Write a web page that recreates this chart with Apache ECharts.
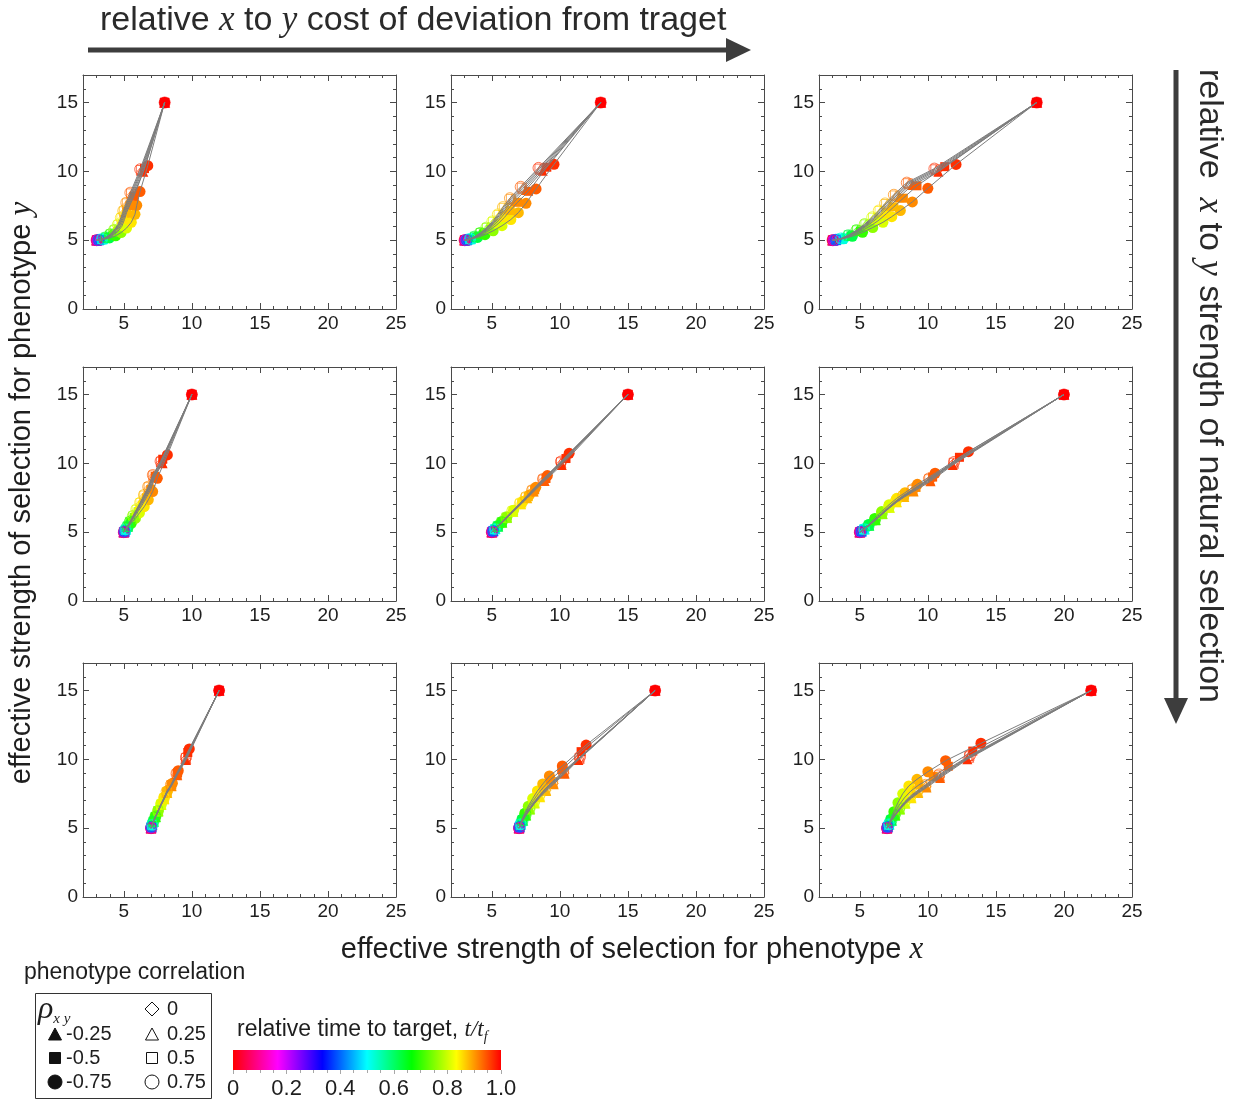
<!DOCTYPE html>
<html>
<head>
<meta charset="utf-8">
<script src="https://cdn.jsdelivr.net/npm/echarts@6/dist/echarts.min.js"></script>
<style>
html, body { margin: 0; padding: 0; background: #ffffff; }
#chart { width: 1242px; height: 1111px; }
</style>
</head>
<body>
<div id="chart"></div>
<script>
// Relative time t/t_f of every stored sample along a trajectory
const sampleTimes = [0, 0.2, 0.4, 0.52, 0.62, 0.7, 0.76, 0.81, 0.85, 0.88, 0.91, 0.94, 0.97, 1];
// Phenotype correlations, one trajectory per value (same order in every panel)
const correlations = [-0.75, -0.5, -0.25, 0, 0.25, 0.5, 0.75];
const xTickValues = [5, 10, 15, 20, 25];
const yTickValues = [0, 5, 10, 15];
const colorbarTickValues = [0, 0.2, 0.4, 0.6, 0.8, 1.0];

// Row 1, column 1 : start (3,5), target (8,15)
const p11x = [
  [3, 3.04, 3.22, 3.55, 3.95, 4.4, 4.8, 5.2, 5.55, 5.82, 5.95, 6.19, 6.76, 8],
  [3, 3.04, 3.2, 3.48, 3.82, 4.2, 4.55, 4.85, 5.05, 5.2, 5.45, 5.75, 6.52, 8],
  [3, 3.04, 3.19, 3.45, 3.78, 4.13, 4.47, 4.77, 4.98, 5.15, 5.38, 5.7, 6.43, 8],
  [3, 3.03, 3.18, 3.43, 3.75, 4.08, 4.4, 4.7, 4.92, 5.1, 5.32, 5.64, 6.36, 8],
  [3, 3.03, 3.17, 3.42, 3.72, 4.05, 4.36, 4.65, 4.87, 5.05, 5.27, 5.58, 6.3, 8],
  [3, 3.03, 3.17, 3.41, 3.7, 4.02, 4.32, 4.6, 4.82, 5.0, 5.22, 5.53, 6.25, 8],
  [3, 3.03, 3.16, 3.4, 3.68, 4.0, 4.29, 4.56, 4.78, 4.96, 5.18, 5.48, 6.2, 8]
];
const p11y = [
  [5, 5.0, 5.02, 5.07, 5.16, 5.32, 5.55, 5.88, 6.3, 6.88, 7.53, 8.53, 10.41, 15],
  [5, 5.0, 5.02, 5.08, 5.18, 5.36, 5.62, 6.0, 6.5, 7.0, 7.55, 8.2, 10.2, 15],
  [5, 5.0, 5.02, 5.08, 5.19, 5.38, 5.65, 6.03, 6.52, 7.0, 7.55, 8.25, 9.98, 15],
  [5, 5.0, 5.02, 5.08, 5.2, 5.4, 5.68, 6.06, 6.55, 7.03, 7.6, 8.3, 10.02, 15],
  [5, 5.0, 5.02, 5.08, 5.2, 5.41, 5.7, 6.08, 6.58, 7.07, 7.64, 8.35, 10.06, 15],
  [5, 5.0, 5.02, 5.09, 5.21, 5.42, 5.72, 6.1, 6.6, 7.1, 7.68, 8.4, 10.1, 15],
  [5, 5.0, 5.02, 5.09, 5.21, 5.43, 5.74, 6.13, 6.63, 7.13, 7.72, 8.45, 10.15, 15]
];

// Row 1, column 2 : start (3,5), target (13,15)
const p12x = [
  [3, 3.04, 3.2, 3.5, 3.95, 4.5, 5.1, 5.75, 6.4, 6.95, 7.51, 8.25, 9.57, 13],
  [3, 3.04, 3.19, 3.47, 3.88, 4.38, 4.92, 5.45, 5.92, 6.35, 6.9, 7.7, 9.04, 13],
  [3, 3.04, 3.18, 3.45, 3.83, 4.3, 4.8, 5.3, 5.75, 6.15, 6.7, 7.5, 8.74, 13],
  [3, 3.04, 3.17, 3.43, 3.8, 4.25, 4.73, 5.2, 5.63, 6.03, 6.57, 7.38, 8.65, 13],
  [3, 3.04, 3.17, 3.42, 3.78, 4.21, 4.68, 5.14, 5.56, 5.95, 6.48, 7.28, 8.57, 13],
  [3, 3.04, 3.16, 3.41, 3.76, 4.18, 4.64, 5.09, 5.5, 5.88, 6.4, 7.2, 8.5, 13],
  [3, 3.04, 3.16, 3.4, 3.74, 4.15, 4.6, 5.04, 5.44, 5.82, 6.33, 7.12, 8.43, 13]
];
const p12y = [
  [5, 5.0, 5.02, 5.08, 5.2, 5.4, 5.68, 6.05, 6.5, 7.0, 7.68, 8.72, 10.51, 15],
  [5, 5.0, 5.02, 5.09, 5.23, 5.46, 5.78, 6.18, 6.65, 7.15, 7.75, 8.55, 10.3, 15],
  [5, 5.0, 5.02, 5.09, 5.24, 5.48, 5.82, 6.23, 6.72, 7.22, 7.85, 8.65, 10.05, 15],
  [5, 5.0, 5.02, 5.09, 5.25, 5.5, 5.85, 6.27, 6.76, 7.27, 7.9, 8.7, 10.1, 15],
  [5, 5.0, 5.02, 5.09, 5.25, 5.51, 5.87, 6.3, 6.8, 7.31, 7.95, 8.76, 10.15, 15],
  [5, 5.0, 5.02, 5.1, 5.26, 5.52, 5.89, 6.33, 6.83, 7.35, 8.0, 8.82, 10.2, 15],
  [5, 5.0, 5.02, 5.1, 5.26, 5.53, 5.91, 6.36, 6.87, 7.4, 8.05, 8.88, 10.25, 15]
];

// Row 1, column 3 : start (3,5), target (18,15)
const p13x = [
  [3, 3.05, 3.3, 3.8, 4.45, 5.2, 5.95, 6.7, 7.35, 7.98, 8.86, 10.0, 12.07, 18],
  [3, 3.05, 3.28, 3.74, 4.35, 5.05, 5.75, 6.4, 6.95, 7.5, 8.2, 9.2, 11.24, 18],
  [3, 3.05, 3.26, 3.7, 4.28, 4.95, 5.6, 6.2, 6.72, 7.22, 7.88, 8.85, 10.77, 18],
  [3, 3.05, 3.25, 3.68, 4.24, 4.88, 5.52, 6.1, 6.6, 7.1, 7.75, 8.72, 10.7, 18],
  [3, 3.05, 3.24, 3.66, 4.21, 4.84, 5.46, 6.03, 6.52, 7.01, 7.66, 8.62, 10.62, 18],
  [3, 3.05, 3.24, 3.65, 4.18, 4.8, 5.41, 5.97, 6.45, 6.93, 7.58, 8.53, 10.55, 18],
  [3, 3.05, 3.23, 3.63, 4.16, 4.76, 5.36, 5.91, 6.39, 6.86, 7.5, 8.45, 10.48, 18]
];
const p13y = [
  [5, 5.0, 5.03, 5.1, 5.28, 5.57, 5.92, 6.3, 6.71, 7.15, 7.78, 8.77, 10.5, 15],
  [5, 5.0, 5.03, 5.11, 5.31, 5.63, 6.02, 6.45, 6.92, 7.42, 8.05, 8.95, 10.34, 15],
  [5, 5.0, 5.03, 5.12, 5.33, 5.67, 6.08, 6.53, 7.0, 7.5, 8.12, 9.0, 9.98, 15],
  [5, 5.0, 5.03, 5.12, 5.34, 5.69, 6.11, 6.57, 7.05, 7.55, 8.17, 9.05, 10.05, 15],
  [5, 5.0, 5.03, 5.12, 5.35, 5.7, 6.13, 6.6, 7.08, 7.59, 8.21, 9.1, 10.1, 15],
  [5, 5.0, 5.03, 5.13, 5.36, 5.72, 6.15, 6.63, 7.12, 7.63, 8.25, 9.14, 10.15, 15],
  [5, 5.0, 5.03, 5.13, 5.36, 5.73, 6.17, 6.66, 7.15, 7.67, 8.3, 9.18, 10.2, 15]
];

// Row 2, column 1 : start (5,5), target (10,15)
const p21x = [
  [5, 5.01, 5.05, 5.15, 5.32, 5.55, 5.85, 6.15, 6.5, 6.8, 7.12, 7.46, 8.2, 10],
  [5, 5.01, 5.05, 5.14, 5.3, 5.5, 5.76, 6.05, 6.35, 6.65, 6.98, 7.3, 7.86, 10],
  [5, 5.01, 5.05, 5.14, 5.29, 5.48, 5.73, 6.0, 6.3, 6.6, 6.92, 7.25, 7.85, 10],
  [5, 5.01, 5.05, 5.14, 5.28, 5.47, 5.71, 5.98, 6.27, 6.56, 6.88, 7.22, 7.78, 10],
  [5, 5.01, 5.05, 5.13, 5.27, 5.46, 5.69, 5.96, 6.24, 6.53, 6.85, 7.19, 7.75, 10],
  [5, 5.01, 5.05, 5.13, 5.27, 5.45, 5.68, 5.94, 6.22, 6.5, 6.82, 7.16, 7.72, 10],
  [5, 5.01, 5.05, 5.13, 5.26, 5.44, 5.66, 5.92, 6.2, 6.48, 6.79, 7.13, 7.7, 10]
];
const p21y = [
  [5, 5.01, 5.06, 5.18, 5.38, 5.65, 6.0, 6.4, 6.85, 7.35, 7.95, 8.91, 10.61, 15],
  [5, 5.01, 5.06, 5.19, 5.4, 5.7, 6.07, 6.5, 6.97, 7.5, 8.1, 9.05, 10.3, 15],
  [5, 5.01, 5.06, 5.19, 5.41, 5.72, 6.1, 6.55, 7.02, 7.56, 8.15, 9.0, 10.0, 15],
  [5, 5.01, 5.06, 5.19, 5.41, 5.73, 6.12, 6.58, 7.06, 7.6, 8.2, 9.05, 10.05, 15],
  [5, 5.01, 5.06, 5.2, 5.42, 5.74, 6.14, 6.6, 7.09, 7.63, 8.24, 9.08, 10.1, 15],
  [5, 5.01, 5.06, 5.2, 5.42, 5.75, 6.15, 6.62, 7.12, 7.66, 8.27, 9.12, 10.12, 15],
  [5, 5.01, 5.06, 5.2, 5.43, 5.76, 6.17, 6.65, 7.15, 7.7, 8.3, 9.15, 10.15, 15]
];

// Row 2, column 2 : start (5,5), target (15,15)
const p22x = [
  [5, 5.02, 5.1, 5.25, 5.45, 5.75, 6.1, 6.6, 7.27, 7.76, 8.23, 9.08, 10.68, 15],
  [5, 5.02, 5.1, 5.25, 5.46, 5.76, 6.12, 6.6, 7.2, 7.68, 8.15, 8.98, 10.45, 15],
  [5, 5.02, 5.1, 5.25, 5.46, 5.76, 6.12, 6.58, 7.15, 7.6, 8.08, 8.88, 10.14, 15],
  [5, 5.02, 5.1, 5.24, 5.44, 5.74, 6.1, 6.55, 7.12, 7.56, 8.03, 8.83, 10.1, 15],
  [5, 5.02, 5.1, 5.24, 5.44, 5.73, 6.08, 6.53, 7.1, 7.53, 8.0, 8.8, 10.08, 15],
  [5, 5.02, 5.09, 5.23, 5.43, 5.72, 6.07, 6.52, 7.08, 7.51, 7.98, 8.78, 10.08, 15],
  [5, 5.02, 5.09, 5.23, 5.43, 5.71, 6.06, 6.5, 7.06, 7.49, 7.96, 8.76, 10.08, 15]
];
const p22y = [
  [5, 5.02, 5.1, 5.25, 5.45, 5.75, 6.1, 6.6, 7.22, 7.7, 8.26, 9.11, 10.73, 15],
  [5, 5.02, 5.1, 5.24, 5.44, 5.73, 6.08, 6.55, 7.12, 7.58, 8.08, 8.9, 10.35, 15],
  [5, 5.02, 5.09, 5.23, 5.42, 5.7, 6.04, 6.48, 7.03, 7.47, 7.95, 8.72, 9.88, 15],
  [5, 5.02, 5.09, 5.23, 5.42, 5.7, 6.05, 6.5, 7.05, 7.5, 7.98, 8.76, 9.95, 15],
  [5, 5.02, 5.09, 5.23, 5.43, 5.71, 6.06, 6.51, 7.07, 7.52, 8.0, 8.8, 10.02, 15],
  [5, 5.02, 5.09, 5.23, 5.43, 5.72, 6.07, 6.52, 7.08, 7.53, 8.02, 8.83, 10.08, 15],
  [5, 5.02, 5.09, 5.23, 5.44, 5.73, 6.08, 6.54, 7.1, 7.55, 8.05, 8.86, 10.13, 15]
];

// Row 2, column 3 : start (5,5), target (20,15)
const p23x = [
  [5, 5.02, 5.12, 5.32, 5.65, 6.1, 6.6, 7.15, 7.71, 8.32, 9.23, 10.53, 12.98, 20],
  [5, 5.02, 5.12, 5.33, 5.67, 6.13, 6.63, 7.17, 7.7, 8.28, 9.13, 10.35, 12.32, 20],
  [5, 5.02, 5.12, 5.33, 5.68, 6.15, 6.66, 7.2, 7.72, 8.27, 8.95, 10.2, 11.83, 20],
  [5, 5.02, 5.12, 5.33, 5.68, 6.15, 6.66, 7.18, 7.7, 8.24, 8.92, 10.15, 11.85, 20],
  [5, 5.02, 5.12, 5.33, 5.67, 6.14, 6.65, 7.17, 7.68, 8.22, 8.9, 10.12, 11.88, 20],
  [5, 5.02, 5.12, 5.32, 5.66, 6.13, 6.63, 7.15, 7.66, 8.2, 8.88, 10.1, 11.9, 20],
  [5, 5.02, 5.12, 5.32, 5.66, 6.12, 6.62, 7.13, 7.64, 8.18, 8.86, 10.08, 11.93, 20]
];
const p23y = [
  [5, 5.01, 5.08, 5.25, 5.55, 6.0, 6.5, 7.0, 7.46, 7.87, 8.48, 9.28, 10.85, 15],
  [5, 5.01, 5.07, 5.23, 5.5, 5.92, 6.38, 6.85, 7.28, 7.68, 8.25, 9.0, 10.44, 15],
  [5, 5.01, 5.07, 5.22, 5.48, 5.88, 6.32, 6.77, 7.18, 7.55, 7.95, 8.7, 9.88, 15],
  [5, 5.01, 5.07, 5.22, 5.48, 5.88, 6.32, 6.78, 7.2, 7.58, 8.0, 8.75, 9.95, 15],
  [5, 5.01, 5.07, 5.22, 5.49, 5.89, 6.34, 6.8, 7.22, 7.6, 8.03, 8.8, 10.0, 15],
  [5, 5.01, 5.07, 5.22, 5.49, 5.9, 6.35, 6.82, 7.24, 7.63, 8.07, 8.85, 10.05, 15],
  [5, 5.01, 5.07, 5.22, 5.5, 5.91, 6.37, 6.84, 7.27, 7.66, 8.1, 8.9, 10.1, 15]
];

// Row 3, column 1 : start (7,5), target (12,15)
const p31x = [
  [7, 7.0, 7.03, 7.08, 7.17, 7.32, 7.52, 7.75, 7.98, 8.2, 8.57, 9.0, 9.81, 12],
  [7, 7.0, 7.03, 7.08, 7.17, 7.32, 7.52, 7.74, 7.96, 8.18, 8.52, 8.95, 9.7, 12],
  [7, 7.0, 7.03, 7.08, 7.18, 7.33, 7.53, 7.75, 7.97, 8.18, 8.5, 8.92, 9.57, 12],
  [7, 7.0, 7.03, 7.08, 7.18, 7.33, 7.53, 7.75, 7.96, 8.17, 8.49, 8.9, 9.55, 12],
  [7, 7.0, 7.03, 7.08, 7.18, 7.33, 7.52, 7.74, 7.95, 8.16, 8.48, 8.89, 9.55, 12],
  [7, 7.0, 7.03, 7.08, 7.18, 7.32, 7.52, 7.74, 7.95, 8.15, 8.47, 8.88, 9.56, 12],
  [7, 7.0, 7.03, 7.08, 7.18, 7.32, 7.51, 7.73, 7.94, 8.14, 8.46, 8.87, 9.57, 12]
];
const p31y = [
  [5, 5.02, 5.1, 5.25, 5.5, 5.85, 6.3, 6.8, 7.25, 7.72, 8.26, 9.18, 10.76, 15],
  [5, 5.02, 5.1, 5.25, 5.49, 5.83, 6.26, 6.74, 7.18, 7.63, 8.17, 9.02, 10.5, 15],
  [5, 5.02, 5.1, 5.24, 5.48, 5.81, 6.22, 6.68, 7.1, 7.55, 8.05, 8.85, 9.96, 15],
  [5, 5.02, 5.1, 5.24, 5.48, 5.81, 6.23, 6.7, 7.12, 7.58, 8.08, 8.88, 10.0, 15],
  [5, 5.02, 5.1, 5.24, 5.48, 5.82, 6.24, 6.72, 7.14, 7.6, 8.1, 8.91, 10.05, 15],
  [5, 5.02, 5.1, 5.24, 5.49, 5.83, 6.25, 6.73, 7.16, 7.62, 8.13, 8.94, 10.1, 15],
  [5, 5.02, 5.1, 5.25, 5.49, 5.84, 6.26, 6.75, 7.18, 7.65, 8.16, 8.97, 10.15, 15]
];

// Row 3, column 2 : start (7,5), target (17,15)
const p32x = [
  [7, 7.0, 7.03, 7.1, 7.22, 7.42, 7.68, 8.0, 8.35, 8.74, 9.23, 10.18, 11.93, 17],
  [7, 7.0, 7.03, 7.1, 7.23, 7.44, 7.71, 8.04, 8.4, 8.8, 9.3, 10.15, 11.56, 17],
  [7, 7.0, 7.04, 7.12, 7.27, 7.5, 7.8, 8.15, 8.55, 9.0, 9.55, 10.35, 11.36, 17],
  [7, 7.0, 7.04, 7.12, 7.27, 7.5, 7.8, 8.14, 8.53, 8.97, 9.52, 10.32, 11.4, 17],
  [7, 7.0, 7.04, 7.12, 7.27, 7.5, 7.79, 8.13, 8.51, 8.95, 9.49, 10.3, 11.42, 17],
  [7, 7.0, 7.04, 7.12, 7.27, 7.49, 7.78, 8.12, 8.5, 8.93, 9.47, 10.27, 11.45, 17],
  [7, 7.0, 7.04, 7.12, 7.26, 7.48, 7.77, 8.1, 8.48, 8.91, 9.44, 10.24, 11.48, 17]
];
const p32y = [
  [5, 5.02, 5.12, 5.32, 5.65, 6.08, 6.6, 7.15, 7.7, 8.21, 8.79, 9.52, 11.04, 15],
  [5, 5.02, 5.11, 5.3, 5.61, 6.02, 6.5, 7.0, 7.5, 7.98, 8.52, 9.25, 10.56, 15],
  [5, 5.02, 5.1, 5.27, 5.55, 5.92, 6.35, 6.8, 7.25, 7.7, 8.2, 8.95, 9.96, 15],
  [5, 5.02, 5.1, 5.27, 5.56, 5.94, 6.38, 6.84, 7.29, 7.75, 8.25, 9.0, 10.02, 15],
  [5, 5.02, 5.1, 5.27, 5.56, 5.95, 6.4, 6.86, 7.32, 7.78, 8.29, 9.04, 10.07, 15],
  [5, 5.02, 5.1, 5.28, 5.57, 5.96, 6.42, 6.89, 7.35, 7.82, 8.33, 9.08, 10.12, 15],
  [5, 5.02, 5.1, 5.28, 5.57, 5.97, 6.44, 6.91, 7.38, 7.85, 8.37, 9.12, 10.18, 15]
];

// Row 3, column 3 : start (7,5), target (22,15)
const p33x = [
  [7, 7.0, 7.04, 7.12, 7.27, 7.5, 7.8, 8.15, 8.6, 9.2, 10.0, 11.3, 13.9, 22],
  [7, 7.0, 7.04, 7.13, 7.29, 7.54, 7.87, 8.27, 8.75, 9.35, 10.4, 11.5, 13.3, 22],
  [7, 7.0, 7.05, 7.15, 7.33, 7.6, 7.95, 8.35, 8.8, 9.3, 9.9, 10.9, 12.9, 22],
  [7, 7.0, 7.05, 7.15, 7.33, 7.6, 7.94, 8.33, 8.78, 9.28, 9.88, 10.88, 12.95, 22],
  [7, 7.0, 7.05, 7.15, 7.33, 7.59, 7.93, 8.32, 8.76, 9.26, 9.86, 10.86, 13.0, 22],
  [7, 7.0, 7.05, 7.15, 7.32, 7.58, 7.92, 8.3, 8.74, 9.24, 9.84, 10.84, 13.05, 22],
  [7, 7.0, 7.05, 7.15, 7.32, 7.57, 7.9, 8.28, 8.72, 9.22, 9.82, 10.82, 13.1, 22]
];
const p33y = [
  [5, 5.02, 5.1, 5.3, 5.65, 6.2, 6.85, 7.5, 8.07, 8.55, 9.1, 9.9, 11.17, 15],
  [5, 5.02, 5.1, 5.28, 5.6, 6.08, 6.65, 7.2, 7.7, 8.15, 8.75, 9.5, 10.6, 15],
  [5, 5.02, 5.1, 5.27, 5.55, 5.92, 6.35, 6.78, 7.18, 7.55, 7.95, 8.65, 10.0, 15],
  [5, 5.02, 5.1, 5.27, 5.56, 5.94, 6.38, 6.82, 7.22, 7.6, 8.0, 8.72, 10.08, 15],
  [5, 5.02, 5.1, 5.27, 5.56, 5.95, 6.4, 6.85, 7.26, 7.64, 8.05, 8.78, 10.15, 15],
  [5, 5.02, 5.1, 5.28, 5.57, 5.96, 6.42, 6.88, 7.3, 7.68, 8.1, 8.84, 10.22, 15],
  [5, 5.02, 5.1, 5.28, 5.57, 5.97, 6.44, 6.91, 7.34, 7.72, 8.15, 8.9, 10.3, 15]
];

const panels = [
  { x: p11x, y: p11y }, { x: p12x, y: p12y }, { x: p13x, y: p13y },
  { x: p21x, y: p21y }, { x: p22x, y: p22y }, { x: p23x, y: p23y },
  { x: p31x, y: p31y }, { x: p32x, y: p32y }, { x: p33x, y: p33y }
];

// ---------- layout and style ----------
const SANS = '"Liberation Sans", Arial, sans-serif';
const SERIF = '"Liberation Serif", "Times New Roman", serif';
const FRAME = '#4a4a4a';
const TEXT = '#1e1e1e';
const colLeft = [83, 451, 819];
const rowTop = [75, 367, 663];
const PW = 313, PH = 234;
const X_MIN = 2, X_MAX = 25, Y_MIN = 0, Y_MAX = 17;
const minorX = [3, 4, 6, 7, 8, 9, 11, 12, 13, 14, 16, 17, 18, 19, 21, 22, 23, 24];
const minorY = [1, 2, 3, 4, 6, 7, 8, 9, 11, 12, 13, 14, 16];

// marker per correlation: filled for negative values, outlined otherwise
const markers = [
  { symbol: 'circle', size: 11, filled: true },
  { symbol: 'rect', size: 9, filled: true },
  { symbol: 'triangle', size: 10, filled: true },
  { symbol: 'diamond', size: 10, filled: false },
  { symbol: 'triangle', size: 10, filled: false },
  { symbol: 'rect', size: 9, filled: false },
  { symbol: 'circle', size: 11, filled: false }
];

// hue wheel running red -> magenta -> blue -> cyan -> green -> yellow -> red as t goes 0 -> 1
function timeColor(t) {
  const h = ((1 - t) * 6) % 6;
  const i = Math.floor(h), f = h - i;
  let r, g, b;
  switch (i) {
    case 0: r = 1; g = f; b = 0; break;
    case 1: r = 1 - f; g = 1; b = 0; break;
    case 2: r = 0; g = 1; b = f; break;
    case 3: r = 0; g = 1 - f; b = 1; break;
    case 4: r = f; g = 0; b = 1; break;
    default: r = 1; g = 0; b = 1 - f;
  }
  return 'rgb(' + Math.round(r * 255) + ',' + Math.round(g * 255) + ',' + Math.round(b * 255) + ')';
}

function frameAxis(gridIndex, min, max, position, ticks, len, showLine, labels) {
  return {
    gridIndex: gridIndex, type: 'value', min: min, max: max, position: position,
    axisLine: { show: showLine, onZero: false, lineStyle: { color: FRAME, width: 1 } },
    axisTick: { show: true, inside: true, length: len, customValues: ticks, lineStyle: { color: FRAME, width: 1 } },
    axisLabel: labels
      ? { show: true, customValues: labels, fontSize: 19, color: TEXT, fontFamily: SANS, margin: 5 }
      : { show: false },
    splitLine: { show: false },
    minorTick: { show: false },
    axisPointer: { show: false }
  };
}

const grids = [], xAxes = [], yAxes = [], series = [];

panels.forEach(function (p, g) {
  const r = Math.floor(g / 3), c = g % 3;
  grids.push({ left: colLeft[c], top: rowTop[r], width: PW, height: PH });
  xAxes.push(frameAxis(g, X_MIN, X_MAX, 'bottom', xTickValues, 6, true, xTickValues));
  xAxes.push(frameAxis(g, X_MIN, X_MAX, 'bottom', minorX, 3, false, null));
  xAxes.push(frameAxis(g, X_MIN, X_MAX, 'top', xTickValues, 6, true, null));
  xAxes.push(frameAxis(g, X_MIN, X_MAX, 'top', minorX, 3, false, null));
  yAxes.push(frameAxis(g, Y_MIN, Y_MAX, 'left', yTickValues, 6, true, yTickValues));
  yAxes.push(frameAxis(g, Y_MIN, Y_MAX, 'left', minorY, 3, false, null));
  yAxes.push(frameAxis(g, Y_MIN, Y_MAX, 'right', yTickValues, 6, true, null));
  yAxes.push(frameAxis(g, Y_MIN, Y_MAX, 'right', minorY, 3, false, null));

  correlations.forEach(function (rho, k) {
    const pts = p.x[k].map(function (xv, i) { return [xv, p.y[k][i], sampleTimes[i]]; });
    const m = markers[k];
    series.push({
      type: 'scatter', name: 'rho ' + rho, xAxisIndex: 4 * g, yAxisIndex: 4 * g,
      symbol: m.symbol, symbolSize: m.size, z: 3, silent: true, animation: false,
      data: pts.map(function (d) {
        const col = timeColor(d[2]);
        return {
          value: d,
          itemStyle: m.filled
            ? { color: col, opacity: 1 }
            : { color: 'rgba(255,255,255,0)', borderColor: col, borderWidth: 0.8, opacity: 0.85 }
        };
      })
    });
    series.push({
      type: 'line', xAxisIndex: 4 * g, yAxisIndex: 4 * g, data: pts,
      symbol: 'none', showSymbol: false, z: 4, silent: true, animation: false,
      lineStyle: { color: '#7d7d7d', width: 1 }
    });
  });
});

// colour bar for relative time
const cbGrid = grids.length;
grids.push({ left: 233, top: 1050, width: 268, height: 20 });
xAxes.push({
  gridIndex: cbGrid, type: 'value', min: 0, max: 1, interval: 0.2, position: 'bottom',
  axisLine: { show: false },
  axisTick: { show: true, length: 4, lineStyle: { color: '#a8a8a8' } },
  minorTick: { show: true, splitNumber: 4, length: 3, lineStyle: { color: '#a8a8a8' } },
  axisLabel: {
    fontSize: 22, color: TEXT, fontFamily: SANS, margin: 8,
    customValues: colorbarTickValues,
    formatter: function (v) { return v === 0 ? '0' : v.toFixed(1); }
  },
  splitLine: { show: false }
});
yAxes.push({ gridIndex: cbGrid, type: 'value', min: 0, max: 1, show: false });
const cbStops = [0, 1, 2, 3, 4, 5, 6].map(function (k) { return { offset: k / 6, color: timeColor(k / 6) }; });
series.push({
  type: 'custom', xAxisIndex: xAxes.length - 1, yAxisIndex: yAxes.length - 1,
  data: [[0, 1]], silent: true, animation: false,
  renderItem: function (params, api) {
    const a = api.coord([api.value(0), 1]);
    const b = api.coord([api.value(1), 0]);
    return {
      type: 'rect',
      shape: { x: a[0], y: a[1], width: b[0] - a[0], height: b[1] - a[1] },
      style: { fill: new echarts.graphic.LinearGradient(0, 0, 1, 0, cbStops) }
    };
  }
});

// ---------- annotations ----------
const ARROW = '#3d3d3d';
const richText = {
  n: { fontSize: 34, fontFamily: SANS, fill: '#2a2a2a' },
  v: { fontSize: 35, fontFamily: SERIF, fontStyle: 'italic', fill: '#2a2a2a' }
};
const axisRich = {
  n: { fontSize: 29, fontFamily: SANS, fill: TEXT },
  v: { fontSize: 31, fontFamily: SERIF, fontStyle: 'italic', fill: TEXT }
};

const graphics = [
  { type: 'line', shape: { x1: 88, y1: 50, x2: 730, y2: 50 }, style: { stroke: ARROW, lineWidth: 5 } },
  { type: 'polygon', shape: { points: [[726, 38], [751, 50], [726, 62]] }, style: { fill: ARROW } },
  { type: 'text', x: 100, y: 21, style: { text: '{n|relative }{v|x}{n| to }{v|y}{n| cost of deviation from traget}', rich: richText, align: 'left', verticalAlign: 'middle' } },

  { type: 'line', shape: { x1: 1176, y1: 70, x2: 1176, y2: 702 }, style: { stroke: ARROW, lineWidth: 5 } },
  { type: 'polygon', shape: { points: [[1164, 698], [1188, 698], [1176, 724]] }, style: { fill: ARROW } },
  { type: 'text', x: 1209, y: 386, rotation: -Math.PI / 2, style: { text: '{n|relative  }{v|x}{n| to }{v|y}{n| strength of natural selection}', rich: richText, align: 'center', verticalAlign: 'middle' } },

  { type: 'text', x: 22, y: 493, rotation: Math.PI / 2, style: { text: '{n|effective strength of selection for phenotype }{v|y}', rich: axisRich, align: 'center', verticalAlign: 'middle' } },
  { type: 'text', x: 632, y: 950, style: { text: '{n|effective strength of selection for phenotype }{v|x}', rich: axisRich, align: 'center', verticalAlign: 'middle' } },

  // correlation legend
  { type: 'text', x: 24, y: 973, style: { text: 'phenotype correlation', fontSize: 23, fontFamily: SANS, fill: TEXT, align: 'left', verticalAlign: 'middle' } },
  { type: 'rect', shape: { x: 35.5, y: 993.5, width: 176, height: 105 }, style: { fill: 'none', stroke: '#333', lineWidth: 1 } },
  { type: 'text', x: 38, y: 1010, style: {
      text: '{r|ρ}{s|x y}', align: 'left', verticalAlign: 'middle',
      rich: {
        r: { fontSize: 32, fontFamily: SERIF, fontStyle: 'italic', fill: TEXT, lineHeight: 34 },
        s: { fontSize: 15, fontFamily: SERIF, fontStyle: 'italic', fill: TEXT, verticalAlign: 'bottom' }
      } } },

  // colour bar title
  { type: 'text', x: 237, y: 1030, style: {
      text: '{n|relative time to target, }{v|t/t}{f|f}', align: 'left', verticalAlign: 'middle',
      rich: {
        n: { fontSize: 23, fontFamily: SANS, fill: TEXT, lineHeight: 28 },
        v: { fontSize: 23, fontFamily: SERIF, fontStyle: 'italic', fill: TEXT, lineHeight: 28 },
        f: { fontSize: 14, fontFamily: SERIF, fontStyle: 'italic', fill: TEXT, verticalAlign: 'bottom' }
      } } }
];

// legend entries: left column negative correlations, right column the rest
const legendPos = [
  { x: 55, y: 1082 }, { x: 55, y: 1058 }, { x: 55, y: 1034 },
  { x: 152, y: 1009 }, { x: 152, y: 1034 }, { x: 152, y: 1058 }, { x: 152, y: 1082 }
];
correlations.forEach(function (rho, k) {
  const m = markers[k], pos = legendPos[k];
  const st = m.filled ? { fill: '#111', stroke: '#111', lineWidth: 1 } : { fill: 'none', stroke: '#111', lineWidth: 1 };
  let shape;
  if (m.symbol === 'circle') {
    shape = { type: 'circle', shape: { cx: pos.x, cy: pos.y, r: 7 }, style: st };
  } else if (m.symbol === 'rect') {
    shape = { type: 'rect', shape: { x: pos.x - 5.5, y: pos.y - 5.5, width: 11, height: 11 }, style: st };
  } else if (m.symbol === 'triangle') {
    shape = { type: 'polygon', shape: { points: [[pos.x - 6.5, pos.y + 6], [pos.x + 6.5, pos.y + 6], [pos.x, pos.y - 6]] }, style: st };
  } else {
    shape = { type: 'polygon', shape: { points: [[pos.x, pos.y - 7], [pos.x + 7, pos.y], [pos.x, pos.y + 7], [pos.x - 7, pos.y]] }, style: st };
  }
  graphics.push(shape);
  graphics.push({ type: 'text', x: pos.x + (k < 3 ? 11 : 15), y: pos.y, style: { text: String(rho), fontSize: 20, fontFamily: SANS, fill: TEXT, align: 'left', verticalAlign: 'middle' } });
});

const chart = echarts.init(document.getElementById('chart'), null, { renderer: 'canvas' });
chart.setOption({
  backgroundColor: '#ffffff',
  animation: false,
  grid: grids,
  xAxis: xAxes,
  yAxis: yAxes,
  series: series,
  graphic: graphics
});
</script>
</body>
</html>
